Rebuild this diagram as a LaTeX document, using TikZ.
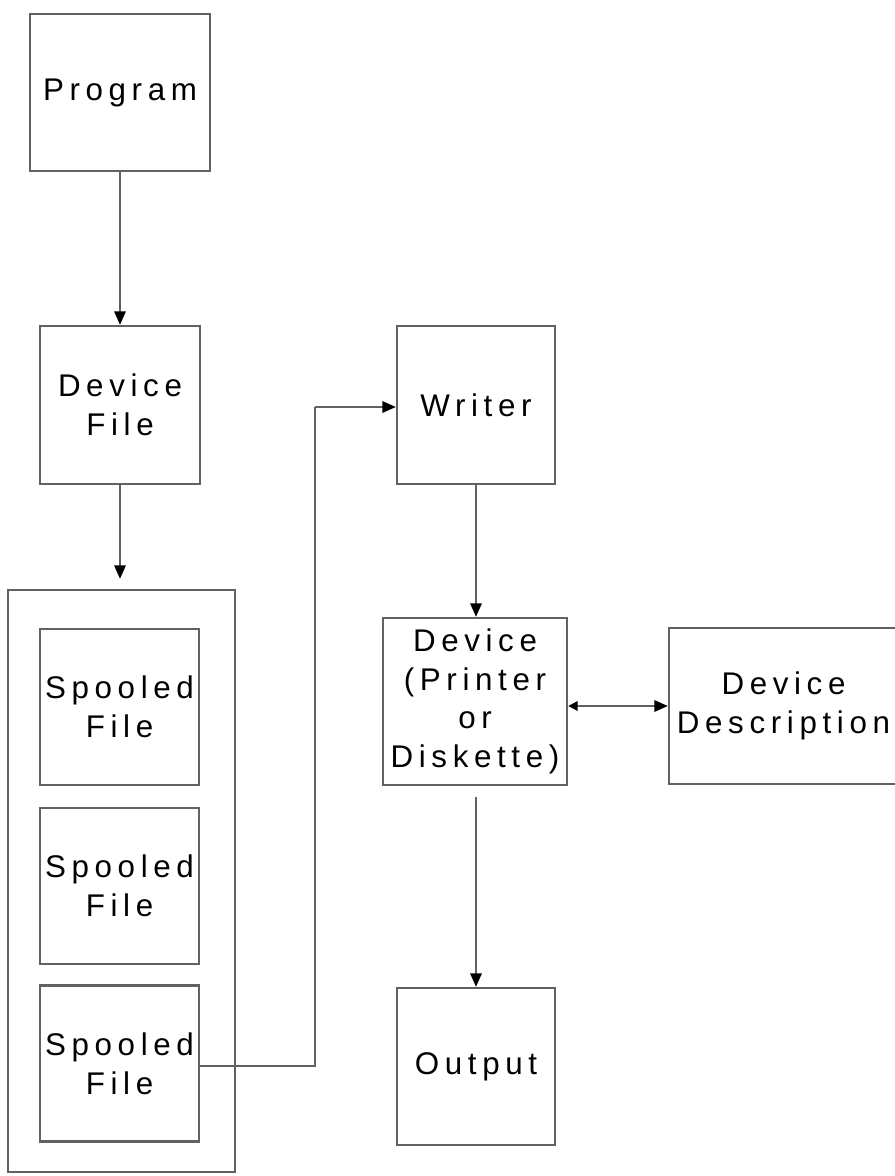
\documentclass[tikz,border=0pt]{standalone}
\usepackage{fontspec}
\newfontfamily\diafont[LetterSpace=18]{Liberation Sans}
\usetikzlibrary{arrows.meta,calc}
\begin{document}
\begin{tikzpicture}[x=0.75pt,y=-0.75pt,
  box/.style={draw=black!62,line width=1.8pt,fill=none,inner sep=0pt,align=center,
    font=\diafont\fontsize{23.5}{29}\selectfont},
  conn/.style={draw=black!62,line width=1.4pt},
  tip/.style={Triangle[length=10pt,width=8.5pt,fill=black,color=black]},
  arr/.style={conn,-{Triangle[length=10pt,width=8.5pt,fill=black,color=black]}}]
\useasboundingbox[fill=white] (0,0) rectangle (894,1176);
\node[box,minimum width=135pt,minimum height=117.75pt] (prog) at (120,92.5) {Program};
\node[box,minimum width=120pt,minimum height=118.5pt] (dfile) at (120,405) {Device\\File};
\node[box,minimum width=170.25pt,minimum height=436.5pt] (cont) at (121.5,881) {};
\node[box,minimum width=119.25pt,minimum height=117pt] (sf1) at (119.5,707) {Spooled\\File};
\node[box,minimum width=119.25pt,minimum height=117pt] (sf2) at (119.5,886) {Spooled\\File};
\node[box,minimum width=119.25pt,minimum height=117pt] (sf3) at (119.5,1063.5) {Spooled\\File};
\node[box,minimum width=118.5pt,minimum height=118.5pt] (writer) at (476,405) {Writer};
\node[box,minimum width=138pt,minimum height=125.25pt] (dev) at (475,701.5) {Device\\(Printer\\or\\Diskette)};
\node[box,minimum width=171.75pt,minimum height=117pt] (dd) at (783.5,706) {Device\\Description};
\node[box,minimum width=118.5pt,minimum height=117.75pt] (out) at (476,1066.5) {Output};
\coordinate (c1) at (315,1066);
\coordinate (c2) at (315,407);
\draw[arr] (prog.south) -- (dfile.north);
\draw[arr,shorten >=7.5pt] (dfile.south) -- (dfile.south |- cont.north);
\draw[arr] (writer.south) -- (writer.south |- dev.north);
\draw[arr,shorten <=8pt] (out.north |- dev.south) -- (out.north);
\draw[conn] (sf3.east |- c1) -- (c1) -- (c2);
\draw[arr] (c2) -- (c2 -| writer.west);
\draw[conn,{Triangle[length=7pt,width=7pt,fill=black,color=black]}-{Triangle[length=10pt,width=8.5pt,fill=black,color=black]}] (dev.east |- dd.west) -- (dd.west);
\end{tikzpicture}
\end{document}
